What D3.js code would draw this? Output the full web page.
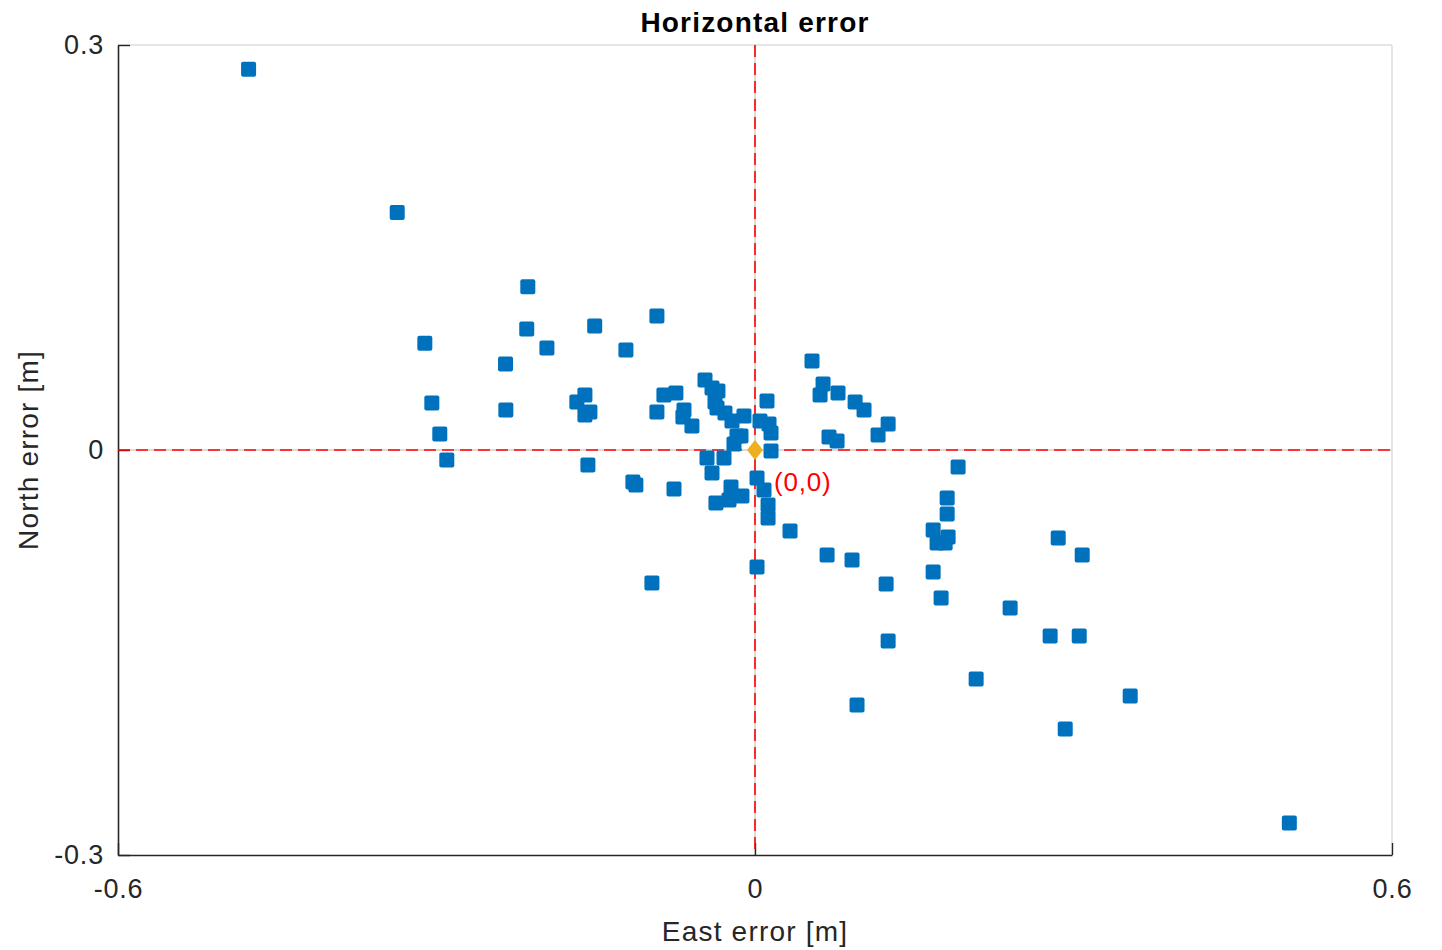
<!DOCTYPE html>
<html>
<head>
<meta charset="utf-8">
<script src="https://cdn.jsdelivr.net/npm/d3@7"></script>
<style>
  html, body { margin: 0; padding: 0; background: #fff; }
  svg { display: block; font-family: "Liberation Sans", Arial, Helvetica, sans-serif; }
</style>
</head>
<body>
<svg id="chart" width="1442" height="950"></svg>
<script>
// ---- data ----
const eastError = [
  -0.477, -0.337, -0.214, -0.215, -0.311, -0.196, -0.235, -0.151, -0.0924, -0.1216,
  -0.3044, -0.2347, -0.2969, -0.2903, -0.1678, -0.1602, -0.1555, -0.1602, -0.1574, -0.0924,
  -0.0858, -0.0745, -0.0669, -0.0679, -0.0594, -0.115, -0.1122, -0.0763, -0.0971, -0.0471,
  -0.0405, -0.0349, -0.0377, -0.0358, -0.0283, -0.0217, -0.0104, -0.017, -0.0198, -0.0132,
  0.0113, 0.0047, 0.0132, 0.0151, 0.0151, -0.0452, -0.0292, -0.0405, -0.0226, -0.0123,
  -0.0368, -0.0245, 0.0019, 0.0085, 0.0123, 0.0123, 0.033, 0.0019, 0.0537, 0.0641,
  0.0613, 0.0782, 0.0943, 0.1027, 0.1254, 0.1159, 0.0697, 0.0773, 0.0679, 0.0914,
  0.1235, 0.1254, 0.0961, 0.1913, 0.181, 0.181, 0.1678, 0.1819, 0.1715, 0.1791,
  0.1678, 0.1753, 0.2403, 0.2856, 0.3082, 0.278, 0.3054, 0.2083, 0.2922, 0.3534,
  0.5033
];
const northError = [
  0.282, 0.176, 0.121, 0.0896, 0.079, 0.0756, 0.0637, 0.0919, 0.0993, 0.0741,
  0.0348, 0.0296, 0.0119, -0.0074, 0.0356, 0.0407, 0.0281, 0.0259, -0.0111, 0.0281,
  0.0407, 0.0422, 0.0296, 0.0244, 0.0178, -0.0237, -0.0259, -0.0289, -0.0985, 0.0519,
  0.0459, 0.0437, 0.0356, 0.0311, 0.0274, 0.0215, 0.0252, 0.0104, 0.0044, 0.0104,
  0.0363, 0.0215, 0.0193, 0.0126, -0.0007, -0.0059, -0.0059, -0.017, -0.0274, -0.0341,
  -0.0393, -0.037, -0.0207, -0.0296, -0.0407, -0.0504, -0.06, -0.0867, 0.0659, 0.0489,
  0.0407, 0.0422, 0.0356, 0.0296, 0.0193, 0.0111, 0.0096, 0.0067, -0.0778, -0.0815,
  -0.0993, -0.1415, -0.1889, -0.0126, -0.0356, -0.0474, -0.0593, -0.0644, -0.0689, -0.0689,
  -0.0904, -0.1096, -0.117, -0.0652, -0.0778, -0.1378, -0.1378, -0.1696, -0.2067, -0.1822,
  -0.2763
];
const originPoint = [0, 0];
const originLabel = "(0,0)";
const xTicks = [-0.6, 0, 0.6];
const xTickLabels = ["-0.6", "0", "0.6"];
const yTicks = [-0.3, 0, 0.3];
const yTickLabels = ["-0.3", "0", "0.3"];
const titleText = "Horizontal error";
const xLabelText = "East error [m]";
const yLabelText = "North error [m]";

// ---- layout ----
const svg = d3.select("#chart");
const L = 118, R = 1392, T = 45, B = 855;
const x = d3.scaleLinear().domain([-0.6, 0.6]).range([L, R]);
const y = d3.scaleLinear().domain([-0.3, 0.3]).range([B, T]);
const axisColor = "#262626";

// box (light top/right)
svg.append("line").attr("x1", L).attr("x2", R).attr("y1", T).attr("y2", T)
  .attr("stroke", "#dedede").attr("stroke-width", 1.5);
svg.append("line").attr("x1", R).attr("x2", R).attr("y1", T).attr("y2", B)
  .attr("stroke", "#dedede").attr("stroke-width", 1.5);

// light gray zero lines under red dashes
svg.append("line").attr("x1", L).attr("x2", R).attr("y1", y(0)).attr("y2", y(0))
  .attr("stroke", "#dcdcdc").attr("stroke-width", 2);
svg.append("line").attr("x1", x(0)).attr("x2", x(0)).attr("y1", T).attr("y2", B)
  .attr("stroke", "#dcdcdc").attr("stroke-width", 2);

// axes
const xAxis = d3.axisBottom(x).tickValues(xTicks)
  .tickFormat((d, i) => xTickLabels[i]).tickSizeInner(-12).tickSizeOuter(0).tickPadding(24);
const yAxis = d3.axisLeft(y).tickValues(yTicks)
  .tickFormat((d, i) => yTickLabels[i]).tickSizeInner(-12).tickSizeOuter(0).tickPadding(14);

const gx = svg.append("g").attr("transform", `translate(0,${B})`).call(xAxis);
const gy = svg.append("g").attr("transform", `translate(${L},0)`).call(yAxis);
[gx, gy].forEach(g => {
  g.select(".domain").attr("stroke", axisColor).attr("stroke-width", 1.6);
  g.selectAll(".tick line").attr("stroke", axisColor).attr("stroke-width", 1.4);
  g.selectAll(".tick text").attr("fill", "#262626")
    .style("font-size", "27px").style("font-family", "'Liberation Sans', Arial, sans-serif")
    .attr("letter-spacing", "0.8px");
});

// red dashed reference lines
svg.append("line").attr("x1", L).attr("x2", R).attr("y1", y(0)).attr("y2", y(0))
  .attr("stroke", "#ff0000").attr("stroke-width", 1.6).attr("stroke-dasharray", "12,6");
svg.append("line").attr("x1", x(0)).attr("x2", x(0)).attr("y1", T).attr("y2", B)
  .attr("stroke", "#ff0000").attr("stroke-width", 1.6).attr("stroke-dasharray", "12,6");

// data markers
const pts = eastError.map((e, i) => ({ e, n: northError[i] }));
const ms = 15;
svg.append("g").selectAll("rect").data(pts).join("rect")
  .attr("x", d => x(d.e) - ms / 2)
  .attr("y", d => y(d.n) - ms / 2)
  .attr("width", ms).attr("height", ms)
  .attr("rx", 2).attr("ry", 2)
  .attr("fill", "#0072BD");

// origin diamond
const ox = x(originPoint[0]), oy = y(originPoint[1]);
const dw = 8, dh = 10;
svg.append("path")
  .attr("d", `M${ox},${oy - dh}L${ox + dw},${oy}L${ox},${oy + dh}L${ox - dw},${oy}Z`)
  .attr("fill", "#EDB120");

// origin label
svg.append("text")
  .attr("x", ox + 19).attr("y", oy + 41)
  .attr("fill", "#ff0000")
  .style("font-size", "26px").attr("letter-spacing", "0.8px")
  .text(originLabel);

// title
svg.append("text").attr("x", (L + R) / 2).attr("y", 32)
  .attr("text-anchor", "middle").attr("fill", "#000")
  .style("font-size", "28px").style("font-weight", "bold").attr("letter-spacing", "1.2px")
  .text(titleText);

// axis labels
svg.append("text").attr("x", (L + R) / 2).attr("y", 941)
  .attr("text-anchor", "middle").attr("fill", "#262626")
  .style("font-size", "28px").attr("letter-spacing", "1.2px")
  .text(xLabelText);
svg.append("text")
  .attr("transform", `translate(38,${(T + B) / 2}) rotate(-90)`)
  .attr("text-anchor", "middle").attr("fill", "#262626")
  .style("font-size", "28px").attr("letter-spacing", "1.2px")
  .text(yLabelText);
</script>
</body>
</html>
